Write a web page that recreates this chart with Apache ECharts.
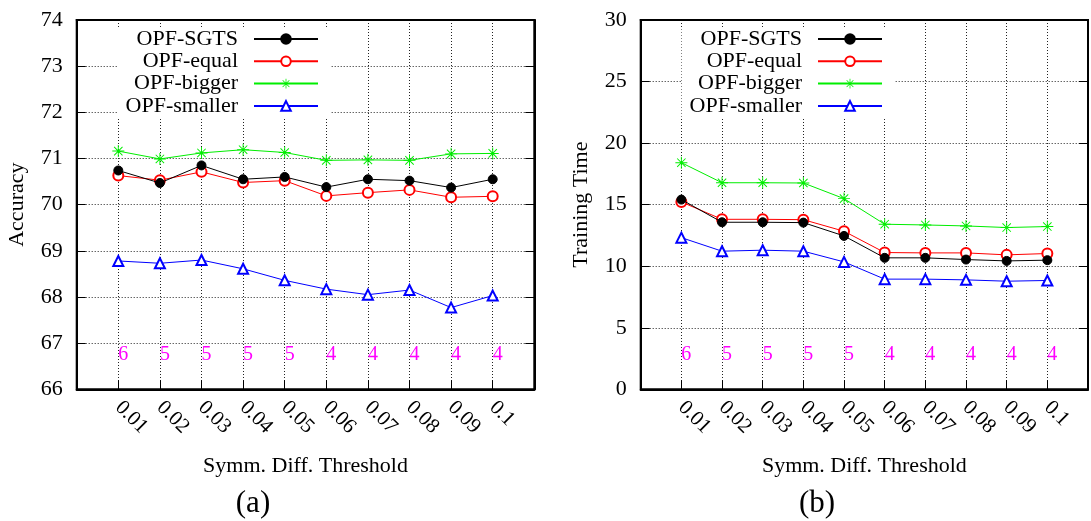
<!DOCTYPE html>
<html>
<head>
<meta charset="utf-8">
<script src="https://cdn.jsdelivr.net/npm/echarts@6/dist/echarts.min.js"></script>
<style>html,body{margin:0;padding:0;background:#fff;}#c{width:1091px;height:521px;}</style>
</head>
<body>
<div id="c"></div>
<script>
const thresholds = ['0.01','0.02','0.03','0.04','0.05','0.06','0.07','0.08','0.09','0.1'];
const clusterCounts = [6, 5, 5, 5, 5, 4, 4, 4, 4, 4];
const seriesNames = ['OPF-SGTS', 'OPF-equal', 'OPF-bigger', 'OPF-smaller'];

const accSGTS    = [70.74, 70.47, 70.85, 70.55, 70.60, 70.38, 70.55, 70.52, 70.37, 70.55];
const accEqual   = [70.63, 70.53, 70.71, 70.48, 70.52, 70.19, 70.26, 70.32, 70.16, 70.18];
const accBigger  = [71.16, 70.99, 71.12, 71.19, 71.13, 70.96, 70.97, 70.96, 71.10, 71.11];
const accSmaller = [68.78, 68.73, 68.80, 68.61, 68.36, 68.17, 68.05, 68.15, 67.77, 68.03];

const timeSGTS    = [15.41, 13.57, 13.57, 13.54, 12.46, 10.68, 10.68, 10.54, 10.43, 10.49];
const timeEqual   = [15.22, 13.81, 13.81, 13.78, 12.84, 11.11, 11.08, 11.08, 10.92, 11.03];
const timeBigger  = [18.41, 16.78, 16.78, 16.76, 15.49, 13.41, 13.35, 13.27, 13.14, 13.22];
const timeSmaller = [12.32, 11.22, 11.30, 11.22, 10.35, 8.95, 8.95, 8.89, 8.78, 8.84];

const accRange = {min: 66, max: 74, interval: 1};
const timeRange = {min: 0, max: 30, interval: 5};
const xRange = {min: 0, max: thresholds.length + 1, interval: 1};

const FONT = 'Liberation Serif';
const asterisk = 'path://M0 9.2H20V10.8H0Z M9.2 0H10.8V20H9.2Z M3.57 2.43L17.57 16.43L16.43 17.57L2.43 3.57Z M17.57 3.57L3.57 17.57L2.43 16.43L16.43 2.43Z';

const styles = [
  {color: '#000000', symbol: 'circle', size: 9, bw: 1},
  {color: '#ff0000', symbol: 'emptyCircle', size: 10, bw: 0.8},
  {color: '#00ee00', symbol: asterisk, size: 12, bw: 0},
  {color: '#0000ff', symbol: 'emptyTriangle', size: 10, bw: 0.8}
];

function toPairs(arr) { return arr.map((v, i) => [i + 1, v]); }

function makeSeries(data, idx, gi) {
  const st = styles[idx];
  return {
    type: 'line', name: seriesNames[idx], xAxisIndex: gi * 3, yAxisIndex: gi * 2,
    data: toPairs(data), symbol: st.symbol, symbolSize: st.size, showAllSymbol: true,
    lineStyle: {color: st.color, width: 1},
    itemStyle: {color: st.color, borderColor: st.color, borderWidth: st.bw},
    emphasis: {disabled: true}, z: 3 + (3 - idx)
  };
}

const gridLine = {show: true, lineStyle: {color: '#222', type: [1, 2], width: 1}};

function xAxes(gi) {
  return [
    Object.assign({type: 'value', gridIndex: gi, position: 'bottom',
      name: 'Symm. Diff. Threshold', nameLocation: 'middle', nameGap: 66,
      nameTextStyle: {fontFamily: FONT, fontSize: 22, color: '#000'},
      axisLine: {show: true, onZero: false, lineStyle: {color: '#000', width: 2}},
      axisTick: {show: true, inside: true, length: 9, lineStyle: {color: '#000', width: 1}},
      axisLabel: {rotate: -45, margin: 15, fontFamily: FONT, fontSize: 21, color: '#000',
        showMinLabel: true, showMaxLabel: true,
        formatter: v => thresholds[v - 1] || ''},
      splitLine: gridLine}, xRange),
    Object.assign({type: 'value', gridIndex: gi, position: 'top',
      axisLine: {show: true, onZero: false, lineStyle: {color: '#000', width: 2}},
      axisTick: {show: false}, axisLabel: {show: false}, splitLine: {show: false}}, xRange),
    Object.assign({type: 'value', gridIndex: gi, position: 'bottom',
      axisLine: {show: false}, axisTick: {show: false}, splitLine: {show: false},
      axisLabel: {inside: true, margin: 25, align: 'left', fontFamily: FONT, fontSize: 20, color: '#ff00ff',
        showMinLabel: true, showMaxLabel: true,
        formatter: v => (clusterCounts[v - 1] !== undefined ? String(clusterCounts[v - 1]) : '')}}, xRange)
  ];
}

function yAxes(gi, range, name) {
  return [
    Object.assign({type: 'value', gridIndex: gi, position: 'left',
      name: name, nameLocation: 'middle', nameGap: 48, nameRotate: 90,
      nameTextStyle: {fontFamily: FONT, fontSize: 22, color: '#000'},
      axisLine: {show: true, onZero: false, lineStyle: {color: '#000', width: 2}},
      axisTick: {show: true, inside: true, length: 9, lineStyle: {color: '#000', width: 1}},
      axisLabel: {margin: 14, fontFamily: FONT, fontSize: 22, color: '#000'},
      splitLine: gridLine}, range),
    Object.assign({type: 'value', gridIndex: gi, position: 'right',
      axisLine: {show: true, onZero: false, lineStyle: {color: '#000', width: 2}},
      axisTick: {show: true, inside: true, length: 9, lineStyle: {color: '#000', width: 1}},
      axisLabel: {show: false}, splitLine: {show: false}}, range)
  ];
}

function legend(right, padRight) {
  return {
    data: seriesNames, orient: 'vertical', align: 'right', right: right, top: 27,
    itemWidth: 64, itemHeight: 12, itemGap: 0.3, padding: [1, padRight, 1, 8],
    backgroundColor: '#fff', selectedMode: false,
    textStyle: {fontFamily: FONT, fontSize: 22, color: '#000', lineHeight: 22, padding: [0, 11, 0, 0]}
  };
}

const option = {
  animation: false,
  backgroundColor: '#fff',
  grid: [
    {left: 76.7, top: 20, width: 457.6, height: 369.3, show: true, borderColor: '#000', borderWidth: 2, backgroundColor: 'transparent'},
    {left: 640.7, top: 20, width: 457.6, height: 369.3, show: true, borderColor: '#000', borderWidth: 2, backgroundColor: 'transparent'}
  ],
  xAxis: xAxes(0).concat(xAxes(1)),
  yAxis: yAxes(0, accRange, 'Accuracy').concat(yAxes(1, timeRange, 'Training Time')),
  legend: [legend(761, 11), legend(196, 12)],
  series: [
    makeSeries(accSGTS, 0, 0), makeSeries(accEqual, 1, 0), makeSeries(accBigger, 2, 0), makeSeries(accSmaller, 3, 0),
    makeSeries(timeSGTS, 0, 1), makeSeries(timeEqual, 1, 1), makeSeries(timeBigger, 2, 1), makeSeries(timeSmaller, 3, 1)
  ],
  graphic: [
    {type: 'text', style: {text: '(a)', fontFamily: FONT, fontSize: 31, fill: '#000', align: 'center', verticalAlign: 'middle', x: 253, y: 504}},
    {type: 'text', style: {text: '(b)', fontFamily: FONT, fontSize: 31, fill: '#000', align: 'center', verticalAlign: 'middle', x: 817, y: 504}}
  ]
};

const chart = echarts.init(document.getElementById('c'), null, {renderer: 'canvas'});
chart.setOption(option);
</script>
</body>
</html>
